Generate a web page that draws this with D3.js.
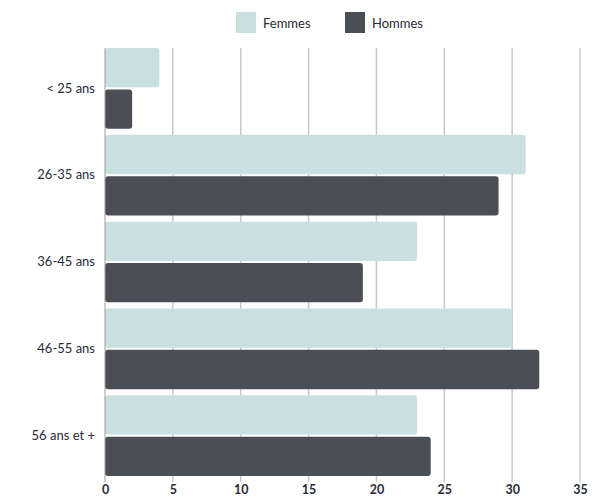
<!DOCTYPE html>
<html>
<head>
<meta charset="utf-8">
<script src="https://cdn.jsdelivr.net/npm/d3@7"></script>
<style>
  body { margin: 0; background: #fff; }
  svg { display: block; font-family: Lato, "Open Sans", sans-serif; }
</style>
</head>
<body>
<svg id="chart" width="609" height="500"></svg>
<script>
const categories = ["< 25 ans", "26-35 ans", "36-45 ans", "46-55 ans", "56 ans et +"];
const seriesNames = ["Femmes", "Hommes"];
const femmes = [4, 31, 23, 30, 23];
const hommes = [2, 29, 19, 32, 24];
const xTicks = [0, 5, 10, 15, 20, 25, 30, 35];
const colors = ["#c9dfe0", "#4a4f56"];

const svg = d3.select("#chart");
const margin = { top: 48, left: 105 };
const plotH = 428;

const g = svg.append("g").attr("transform", `translate(${margin.left},${margin.top})`);

const x = d3.scaleLinear().domain([0, 35]).range([0, 475]);
const y0 = d3.scaleBand().domain(categories).range([0, plotH]).paddingInner(0.07).paddingOuter(0);
const y1 = d3.scaleBand().domain(seriesNames).range([0, y0.bandwidth()]).paddingInner(0.05);

// vertical gridlines
g.append("g").selectAll("line").data(xTicks.filter(d => d > 0)).join("line")
  .attr("x1", d => x(d)).attr("x2", d => x(d))
  .attr("y1", 0).attr("y2", plotH + 6)
  .attr("stroke", "#c8c8c8").attr("stroke-width", 1.5);

// bars
const rows = categories.map((c, i) => ({ cat: c, vals: [femmes[i], hommes[i]] }));
const grp = g.append("g").selectAll("g").data(rows).join("g")
  .attr("transform", d => `translate(0,${y0(d.cat)})`);
grp.selectAll("rect").data(d => d.vals.map((v, j) => ({ name: seriesNames[j], v, j }))).join("rect")
  .attr("x", 0).attr("y", d => y1(d.name))
  .attr("width", d => x(d.v)).attr("height", y1.bandwidth())
  .attr("rx", 3)
  .attr("fill", d => colors[d.j]);

// baseline axis
g.append("line").attr("x1", 0).attr("x2", 0).attr("y1", 0).attr("y2", plotH + 6)
  .attr("stroke", "#9a9a9a").attr("stroke-width", 1);

// x axis labels
const xAxis = g.append("g").attr("transform", `translate(0,${plotH})`)
  .call(d3.axisBottom(x).tickValues(xTicks).tickSize(0).tickPadding(9));
xAxis.select(".domain").remove();
xAxis.selectAll("text").attr("font-size", 12.5).attr("font-weight", 700).attr("fill", "#2a2a3a")
  .attr("font-family", "Lato, sans-serif");

// y axis labels
const yAxis = g.append("g")
  .call(d3.axisLeft(y0).tickSize(0).tickPadding(10));
yAxis.select(".domain").remove();
yAxis.selectAll("text").attr("font-size", 13).attr("fill", "#2a2a3a")
  .attr("font-family", "Lato, sans-serif");

// legend
const legend = svg.append("g").attr("transform", "translate(236,12)");
const items = [{ name: "Femmes", x: 0 }, { name: "Hommes", x: 109 }];
items.forEach((it, i) => {
  const lg = legend.append("g").attr("transform", `translate(${it.x},0)`);
  lg.append("rect").attr("width", 20).attr("height", 21).attr("fill", colors[i]);
  lg.append("text").attr("x", 27).attr("y", 16).attr("font-size", 13)
    .attr("fill", "#2a2a3a").text(it.name);
});
</script>
</body>
</html>
